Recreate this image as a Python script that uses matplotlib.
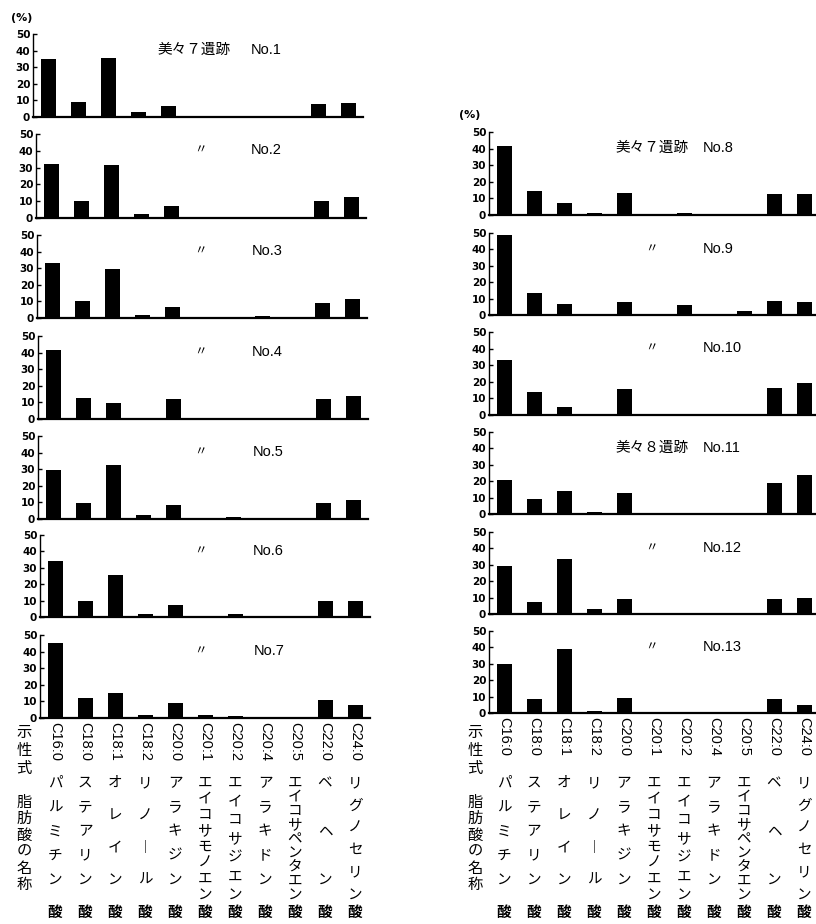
import matplotlib
matplotlib.use("Agg")
import matplotlib.pyplot as plt
from matplotlib import font_manager
from matplotlib.transforms import blended_transform_factory

# ---------------- data ----------------
formulas = ["C16:0", "C18:0", "C18:1", "C18:2", "C20:0", "C20:1",
            "C20:2", "C20:4", "C20:5", "C22:0", "C24:0"]
acid_names = ["パルミチン", "ステアリン", "オレイン", "リノ︱ル", "アラキジン",
              "エイコサモノエン", "エイコサジエン", "アラキドン",
              "エイコサペンタエン", "ベヘン", "リグノセリン"]
acid_suffix = "酸"

sample_numbers = ["No.1", "No.2", "No.3", "No.4", "No.5", "No.6", "No.7",
                  "No.8", "No.9", "No.10", "No.11", "No.12", "No.13"]
site_labels = ["美々７遺跡", "〃", "〃", "〃", "〃", "〃", "〃",
               "美々７遺跡", "〃", "〃", "美々８遺跡", "〃", "〃"]

no1 = [35.0, 9.1, 35.4, 3.2, 6.5, 0.3, 0.3, 0.3, 0.3, 7.7, 8.5]
no2 = [32.3, 10.3, 31.3, 2.4, 7.0, 0.4, 0.4, 0.5, 0.5, 10.3, 12.7]
no3 = [33.2, 10.5, 29.6, 2.0, 6.6, 0.4, 0.5, 1.2, 0.5, 9.0, 11.4]
no4 = [41.8, 12.6, 9.6, 0.6, 12.0, 0.9, 0.3, 0.3, 0.3, 12.0, 14.0]
no5 = [29.8, 9.5, 32.5, 2.4, 8.3, 0.5, 1.0, 0.3, 0.3, 9.5, 11.7]
no6 = [34.3, 9.7, 25.5, 1.8, 7.6, 0.5, 2.0, 0.3, 0.3, 9.9, 9.7]
no7 = [45.0, 12.0, 15.0, 2.0, 9.3, 1.8, 1.0, 0.3, 0.3, 10.9, 8.0]
no8 = [41.5, 14.5, 7.4, 1.0, 13.0, 0.3, 1.0, 0.3, 0.3, 12.6, 12.8]
no9 = [48.5, 13.3, 6.7, 0.6, 8.2, 0.5, 6.3, 0.3, 2.7, 8.4, 7.8]
no10 = [33.2, 13.8, 4.9, 0.8, 15.4, 0.2, 0.2, 0.2, 0.2, 16.2, 19.0]
no11 = [21.0, 9.1, 14.3, 1.2, 12.9, 0.2, 0.2, 0.2, 0.2, 18.8, 24.0]
no12 = [29.5, 7.3, 33.7, 2.8, 8.9, 0.5, 0.3, 0.3, 0.3, 8.9, 9.6]
no13 = [29.8, 8.6, 38.8, 1.4, 9.4, 0.2, 0.5, 0.2, 0.2, 8.4, 5.1]
samples = [no1, no2, no3, no4, no5, no6, no7,
           no8, no9, no10, no11, no12, no13]

yticks = [0, 10, 20, 30, 40, 50]

# ---------------- layout ----------------
W, H = 816, 924
fig = plt.figure(figsize=(W / 100, H / 100), dpi=100)

JP = ["Noto Sans CJK JP", "DejaVu Sans"]


def has_font(name):
    try:
        font_manager.findfont(name, fallback_to_default=False)
        return True
    except Exception:
        return False


NARROW = "Liberation Sans Narrow" if has_font("Liberation Sans Narrow") else "Liberation Sans"


def fx(px):
    return px / W


def fy(py):
    return 1 - py / H


# (axis x, top y of 50, bottom y of 0) in pixels
left_geo = [(33, 34, 117), (36, 134, 218), (37, 235, 318), (38, 336, 419),
            (38, 436, 519), (40, 535, 617), (40, 635, 718)]
right_geo = [(489, 132, 215), (489, 233, 315), (489, 332, 415),
             (489, 432, 514), (489, 532, 614), (489, 631, 713)]
geo = left_geo + right_geo

axes = []
for i, (ax_x, top, bot) in enumerate(geo):
    ax = fig.add_axes([fx(ax_x), fy(bot), 330 / W, (bot - top) / H])
    x = list(range(len(formulas)))
    ax.bar(x, samples[i], width=0.5, color="black", zorder=3)
    ax.set_xlim(-0.5, 10.5)
    ax.set_ylim(0, 50)
    for s in ("top", "right"):
        ax.spines[s].set_visible(False)
    ax.spines["left"].set_linewidth(1.0)
    ax.spines["bottom"].set_linewidth(1.6)
    ax.set_xticks([])
    ax.set_yticks(yticks)
    ax.set_yticklabels([str(t) for t in yticks], fontsize=7.5,
                       fontweight="bold", family="DejaVu Sans")
    ax.tick_params(axis="y", direction="in", length=3, width=1, pad=2)
    ax.patch.set_alpha(0)
    axes.append(ax)

    # panel title
    is_left = i < 7
    ty = top + 16
    if site_labels[i] == "〃":
        cx = 200 if is_left else 651
        fig.text(fx(cx), fy(ty), "〃", family=JP, fontsize=9,
                 ha="center", va="center", style="italic")
    else:
        sx = 157 if is_left else 615
        fig.text(fx(sx), fy(ty), site_labels[i], family=JP, fontsize=10.5,
                 ha="left", va="center")
    nx = (251 + (i % 7) // 2) if is_left else 703
    fig.text(fx(nx), fy(ty), sample_numbers[i], family=NARROW, fontsize=10.5,
             ha="left", va="center")

# (%) labels
fig.text(fx(22), fy(18), "(%)", fontsize=8, fontweight="bold",
         ha="center", va="center", family="DejaVu Sans")
fig.text(fx(470), fy(115), "(%)", fontsize=8, fontweight="bold",
         ha="center", va="center", family="DejaVu Sans")


def bottom_labels(ax, axis_bot, row_x):
    tr = blended_transform_factory(ax.transData, fig.transFigure)
    for k, f in enumerate(formulas):
        ax.text(k, fy(axis_bot + 4), f, transform=tr, rotation=270,
                ha="center", va="top", fontsize=10.5, family="Liberation Sans",
                clip_on=False)
        chars = list(acid_names[k])
        n = len(chars)
        y0 = 783
        y1 = 880 if n <= 5 else 895
        for j, ch in enumerate(chars):
            yy = y0 + (y1 - y0) * j / (n - 1)
            ax.text(k, fy(yy), ch, transform=tr, ha="center", va="center",
                    fontsize=10.5, family=JP, clip_on=False)
        ax.text(k, fy(912), acid_suffix, transform=tr, ha="center",
                va="center", fontsize=10.5, family=JP, fontweight="bold",
                clip_on=False)
    # row captions
    for j, ch in enumerate("示性式"):
        fig.text(fx(row_x), fy(733 + 18 * j), ch, family=JP, fontsize=11,
                 ha="center", va="center")
    for j, ch in enumerate("脂肪酸の名称"):
        fig.text(fx(row_x), fy(802 + 16.5 * j), ch, family=JP, fontsize=11,
                 ha="center", va="center")


bottom_labels(axes[6], 718, 24)
bottom_labels(axes[12], 713, 475)

fig.savefig("out.png", dpi=100, facecolor="white")
